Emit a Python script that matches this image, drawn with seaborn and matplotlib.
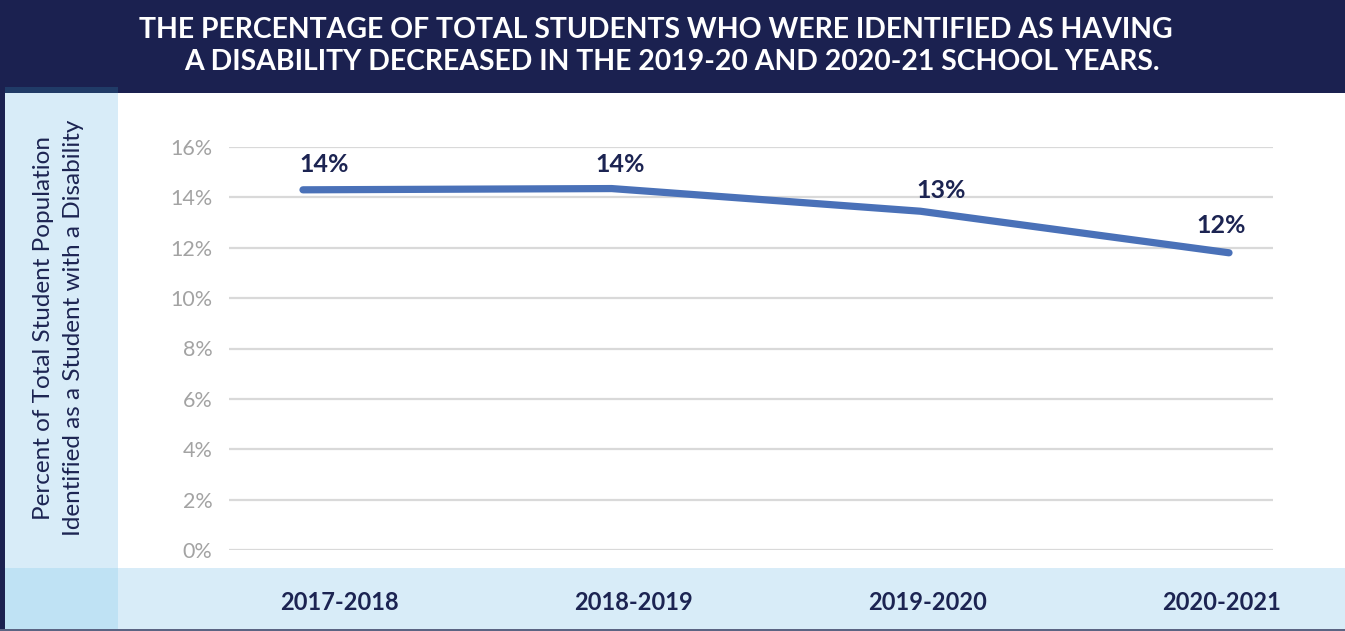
import matplotlib
matplotlib.use("Agg")
import matplotlib.pyplot as plt
from matplotlib.patches import Rectangle
import seaborn as sns
import pandas as pd

# --- data -------------------------------------------------------------
school_years = ["2017-2018", "2018-2019", "2019-2020", "2020-2021"]
pct_disability = [14.3, 14.35, 13.45, 11.8]
y_ticks = [0, 2, 4, 6, 8, 10, 12, 14, 16]
title_lines = [
    "THE PERCENTAGE OF TOTAL STUDENTS WHO WERE IDENTIFIED AS HAVING",
    "A DISABILITY DECREASED IN THE 2019-20 AND 2020-21 SCHOOL YEARS.",
]
y_label = "Percent of Total Student Population\nIdentified as a Student with a Disability"

# --- style --------------------------------------------------------------
NAVY = "#1b2150"
TEXT_NAVY = "#1c2452"
LINE_BLUE = "#4a71b8"
PALE_BLUE = "#d8ecf8"
CORNER_BLUE = "#bfe2f4"
GRID_GREY = "#d9d9d9"
TICK_GREY = "#a3a3a3"

sns.set_theme(style="white")
plt.rcParams["font.family"] = ["Lato", "DejaVu Sans"]

W, H = 1345, 631
fig = plt.figure(figsize=(W / 100, H / 100), dpi=100)
fig.patch.set_facecolor("white")


def px_rect(x0, y0, x1, y1, color, z=0):
    """Rectangle given in pixel coords measured from the top-left corner."""
    fig.patches.append(Rectangle((x0 / W, 1 - y1 / H), (x1 - x0) / W, (y1 - y0) / H,
                                 transform=fig.transFigure, facecolor=color,
                                 edgecolor="none", zorder=z))


# frame pieces
px_rect(0, 0, W, 93, NAVY)             # header band
px_rect(5, 87, 118, 631, PALE_BLUE)    # y-label column
px_rect(5, 87, 118, 93, "#203b67")     # column cap
px_rect(0, 87, 5, 631, NAVY)           # left edge
px_rect(5, 568, 118, 629, CORNER_BLUE) # bottom-left corner
px_rect(0, 629, W, 631, "#5b6483")     # bottom edge

# title
for i, line in enumerate(title_lines):
    fig.text([656, 672][i] / W, 1 - [30, 62][i] / H, line, color="white",
             fontsize=20.4, fontweight="bold", ha="center", va="center")

# y-axis label
fig.text(58.5 / W, 1 - 328 / H, y_label, rotation=90, color=TEXT_NAVY,
         fontsize=17.5, ha="center", va="center", linespacing=1.55,
         multialignment="center")

# --- main line chart ----------------------------------------------------
ax = fig.add_axes([229 / W, 1 - 550 / H, (1273 - 229) / W, (550 - 147) / H])
ax.set_facecolor("none")
df = pd.DataFrame({"year": school_years, "pct": pct_disability})
sns.lineplot(data=df, x="year", y="pct", ax=ax, sort=False, color=LINE_BLUE,
             linewidth=5.2, solid_capstyle="round", solid_joinstyle="round",
             zorder=3)

ax.set_ylim(0, 16)
ax.set_xlim(-0.2397, 3.1425)
ax.set_yticks(y_ticks)
ax.set_yticklabels([f"{t}%" for t in y_ticks])
ax.yaxis.grid(True, color=GRID_GREY, linewidth=1.6)
ax.xaxis.grid(False)
ax.set_axisbelow(True)
for s in ax.spines.values():
    s.set_visible(False)
ax.tick_params(axis="y", length=0, pad=12, labelcolor=TICK_GREY, labelsize=15.5)
ax.tick_params(axis="x", length=0, labelbottom=False)
ax.set_xlabel("")
ax.set_ylabel("")

# value labels above each point
label_offsets = [(15, 18), (6, 17), (15, 15), (-6, 20)]
for i, v in enumerate(pct_disability):
    ax.annotate(f"{v:.0f}%", (i, v), xytext=label_offsets[i],
                textcoords="offset points", ha="center", va="center",
                color=TEXT_NAVY, fontsize=18, fontweight="bold",
                annotation_clip=False, zorder=4)

# --- category band ------------------------------------------------------
band = fig.add_axes([118 / W, (H - 629) / H, (W - 118) / W, (629 - 568) / H])
band.set_facecolor(PALE_BLUE)
band.set_xlim(-0.751, 3.418)
band.set_ylim(0, 1)
band.set_xticks([])
band.set_yticks([])
for s in band.spines.values():
    s.set_visible(False)
for i, yr in enumerate(school_years):
    band.text(i, 0.44, yr, ha="center", va="center", color=TEXT_NAVY,
              fontsize=17, fontweight="bold")

fig.savefig("out.png", dpi=100)
